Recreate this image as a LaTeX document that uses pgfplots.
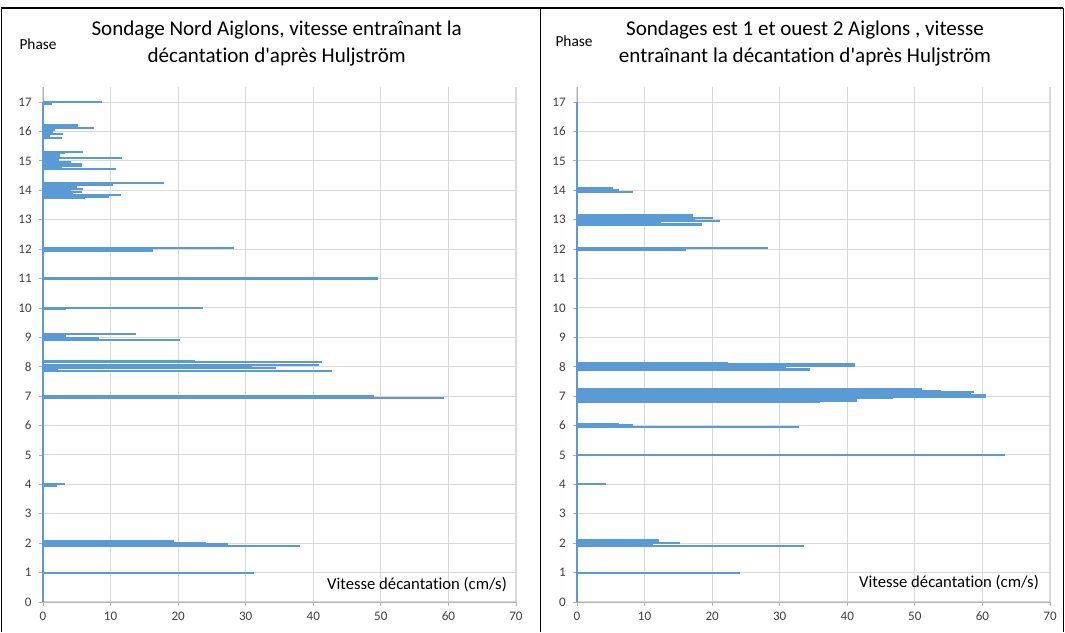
\documentclass[border=0pt]{standalone}
\usepackage{pgfplots}
\pgfplotsset{compat=1.18}
\usepackage{fontspec}
\setmainfont{Carlito}[Ligatures={TeXOff,CommonOff}]
\definecolor{barblue}{HTML}{5B9BD5}
\definecolor{gridgray}{HTML}{D9D9D9}
\definecolor{tickgray}{HTML}{404040}
\pgfplotsset{
  panel/.style={
    scale only axis,
    width=354.75pt, height=386pt,
    xmin=0, xmax=70, ymin=0, ymax=17.5,
    xtick={0,10,...,70}, ytick={0,1,...,17},
    axis lines=left,
    axis line style={-, draw=gray!60, line width=0.6pt},
    xmajorgrids, ymajorgrids,
    major grid style={draw=gridgray, line width=0.8pt},
    tick align=outside, major tick length=3pt,
    tick style={draw=gray!60, line width=0.6pt},
    tick label style={font=\fontsize{9.8}{11}\selectfont, text=tickgray},
    /pgf/number format/assume math mode=true,
    xticklabel style={yshift=-1pt},
    yticklabel style={xshift=-2pt},
    clip=false,
  },
  bars/.style={xcomb, draw=barblue, line width=1.6pt},
}
\begin{document}
\begin{tikzpicture}
\path (0,0) rectangle (798.75pt,474pt);
% frames
\draw[line width=1.1pt] (1.1pt,0) -- (1.1pt,468pt) -- (797.6pt,468pt);
\draw[line width=1.1pt] (405.4pt,0) -- (405.4pt,468pt);
\draw[line width=1.1pt] (797.6pt,0) -- (797.6pt,468pt);

% ---------- left panel ----------
\begin{axis}[panel, at={(32.25pt,22.5pt)}, anchor=south west]
\addplot[draw=barblue, line width=0.9pt] coordinates {(0,0) (0,17)};
\addplot[bars] coordinates {
(8.8,17.00) (1.3,16.93)
(5.2,16.22) (5.2,16.18) (7.6,16.13) (1.8,16.05) (1.5,15.98) (3.0,15.91) (1.0,15.85) (2.8,15.79)
(5.9,15.31) (3.2,15.26) (2.5,15.18) (11.7,15.10) (2.4,15.03) (4.1,14.96) (5.8,14.90) (5.7,14.84) (2.8,14.77) (10.8,14.72)
(17.9,14.26) (10.3,14.19) (5.0,14.12) (5.9,14.05) (4.2,14.01) (5.7,13.95) (4.4,13.90) (11.5,13.84) (9.7,13.79) (6.2,13.74)
(28.3,12.03) (16.3,11.95)
(49.6,11.00)
(23.7,10.01) (3.4,9.96)
(13.7,9.10) (3.4,9.04) (8.3,8.96) (20.3,8.92)
(22.5,8.19) (41.3,8.15) (40.9,8.07) (31.0,8.02) (34.5,7.96) (2.2,7.90) (42.7,7.85)
(49.0,7.00) (59.4,6.95)
(3.2,4.00) (2.1,3.95)
(19.4,2.07) (19.4,2.04) (24.1,2.01) (27.4,1.96) (38.0,1.91)
(31.3,1.00)
};
\end{axis}

% ---------- right panel ----------
\begin{axis}[panel, at={(432.75pt,22.5pt)}, anchor=south west]
\addplot[draw=barblue, line width=0.9pt] coordinates {(0,0) (0,17)};
\addplot[bars] coordinates {
(5.3,14.07) (6.2,14.01) (8.3,13.95)
(17.2,13.17) (17.2,13.13) (11.4,13.10) (20.2,13.06) (17.5,13.00) (21.2,12.95) (12.5,12.91) (18.5,12.86) (18.5,12.82)
(28.2,12.03) (16.2,11.97)
(22.4,8.14) (41.1,8.09) (41.1,8.05) (41.1,8.01) (31.0,7.97) (34.5,7.93) (34.5,7.89)
(51.0,7.24) (53.8,7.18) (58.7,7.13) (58.3,7.08) (60.6,7.04) (36.4,7.00) (60.6,6.98) (46.8,6.93) (41.4,6.88) (41.4,6.84) (36.0,6.81)
(6.2,6.05) (8.3,6.01) (32.8,5.96)
(63.4,5.00)
(4.3,4.00)
(12.1,2.12) (12.1,2.08) (8.8,2.05) (15.3,2.01) (11.3,1.96) (33.6,1.91)
(24.1,1.00)
};
\end{axis}

% ---------- texts ----------
\node[align=center, font=\fontsize{15.8}{20}\selectfont] at (207.5pt,441.4pt)
  {Sondage Nord Aiglons, vitesse entraînant la\\décantation d'après Huljström};
\node[align=center, font=\fontsize{15.8}{20}\selectfont] at (603.75pt,441.4pt)
  {Sondages est 1 et ouest 2 Aiglons , vitesse\\entraînant la décantation d'après Huljström};
\node[font=\fontsize{11.5}{13}\selectfont] at (28.5pt,441pt) {Phase};
\node[font=\fontsize{11.5}{13}\selectfont] at (430.5pt,443.25pt) {Phase};
\node[font=\fontsize{12.5}{14}\selectfont] at (312.75pt,35.25pt) {Vitesse décantation (cm/s)};
\node[font=\fontsize{12.5}{14}\selectfont] at (711.75pt,36.75pt) {Vitesse décantation (cm/s)};
\end{tikzpicture}
\end{document}
